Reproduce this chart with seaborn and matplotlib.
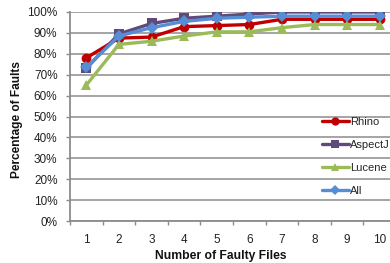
import numpy as np
import pandas as pd
import matplotlib
matplotlib.use("Agg")
import matplotlib.pyplot as plt
import seaborn as sns
from matplotlib.ticker import PercentFormatter, FixedLocator

files = [1, 2, 3, 4, 5, 6, 7, 8, 9, 10]
rhino = [0.78, 0.875, 0.88, 0.93, 0.935, 0.94, 0.965, 0.965, 0.965, 0.965]
aspectj = [0.73, 0.895, 0.945, 0.97, 0.98, 0.99, 1.0, 1.0, 1.0, 1.0]
lucene = [0.65, 0.845, 0.86, 0.885, 0.905, 0.905, 0.925, 0.94, 0.94, 0.94]
all_ = [0.735, 0.885, 0.925, 0.955, 0.97, 0.975, 0.98, 0.98, 0.98, 0.98]
series = ["Rhino", "AspectJ", "Lucene", "All"]
yticks = [0, 0.1, 0.2, 0.3, 0.4, 0.5, 0.6, 0.7, 0.8, 0.9, 1.0]

df = pd.concat([
    pd.DataFrame({"x": files, "y": v, "s": n})
    for n, v in zip(series, [rhino, aspectj, lucene, all_])
])

sns.set_style("white")
plt.rcParams["font.family"] = ["Liberation Sans", "DejaVu Sans"]

palette = {"Rhino": "#C00000", "AspectJ": "#604A7B", "Lucene": "#9BBB59", "All": "#558ED5"}
markers = {"Rhino": "o", "AspectJ": "s", "Lucene": "^", "All": "D"}
msize = {"Rhino": 7, "AspectJ": 7, "Lucene": 7.5, "All": 6}

fig = plt.figure(figsize=(3.9, 2.63), dpi=100)
ax = fig.add_axes([70/390, 1-221/263, 326/390, 209/263])

for n in series:
    sns.lineplot(data=df[df.s == n], x="x", y="y", color=palette[n], marker=markers[n],
                 markersize=msize[n], markeredgewidth=0, linewidth=2.4, label=n, ax=ax)

ax.set_xlim(0.5, 10.5)
ax.set_ylim(0, 1.0)
ax.set_yticks(yticks)
ax.yaxis.set_major_formatter(PercentFormatter(1.0, decimals=0))
ax.grid(axis="y", color="#8c8c8c", linewidth=1.1)
ax.set_axisbelow(True)
for s in ["top", "right"]:
    ax.spines[s].set_visible(False)
for s in ["left", "bottom"]:
    ax.spines[s].set_color("#8c8c8c")
    ax.spines[s].set_linewidth(1.3)

ax.xaxis.set_major_locator(FixedLocator(np.arange(0.5, 11, 1)))
ax.xaxis.set_minor_locator(FixedLocator(files))
ax.set_xticklabels([], minor=False)
ax.set_xticklabels([str(f) for f in files], minor=True)
ax.tick_params(axis="x", which="major", length=3, width=1, color="#8c8c8c", direction="out", bottom=True)
ax.tick_params(axis="x", which="minor", length=0, pad=9.5, labelsize=8.5, labelcolor="#222222", bottom=True)
ax.tick_params(axis="y", length=3, width=1, color="#8c8c8c", direction="out", left=True, pad=6, labelsize=8.5, labelcolor="#222222")

ax.set_xlabel("Number of Faulty Files", fontsize=8.7, fontweight="bold", color="#111111")
ax.set_ylabel("Percentage of Faults", fontsize=8.6, fontweight="bold", color="#111111")
ax.xaxis.set_label_coords((221-70)/326, (221-250)/209)
ax.yaxis.set_label_coords((23-70)/326, (221-119)/209)

leg = ax.legend(loc="center left", bbox_to_anchor=(322/390, 1-156.5/263), bbox_transform=fig.transFigure,
                frameon=False, fontsize=8, handlelength=2.4, handletextpad=0.1, labelspacing=1.15,
                borderpad=0, borderaxespad=0, markerscale=0.85)

fig.savefig("out.png", dpi=100)
